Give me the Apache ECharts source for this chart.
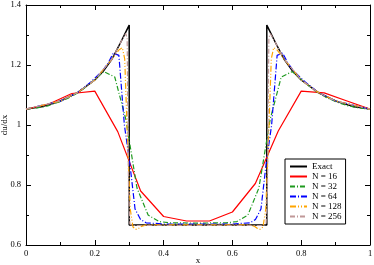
<!DOCTYPE html>
<html><head><meta charset="utf-8">
<script src="https://cdn.jsdelivr.net/npm/echarts@6/dist/echarts.min.js"></script>
<style>html,body{margin:0;padding:0;background:#fff}#c{width:374px;height:265px}</style>
</head><body><div id="c"></div>
<script>
var xTicks = [0, 0.2, 0.4, 0.6, 0.8, 1];
var yTicks = [0.6, 0.8, 1, 1.2, 1.4];
var seriesNames = ['Exact', 'N = 16', 'N = 32', 'N = 64', 'N = 128', 'N = 256'];

var exactX = [0,0.05,0.1,0.15,0.2,0.225,0.25,0.275,0.3,0.3,0.7,0.7,0.725,0.75,0.775,0.8,0.85,0.9,0.95,1];
var exactY = [1.053,1.062,1.08,1.108,1.15,1.18,1.22,1.275,1.333,0.667,0.667,1.333,1.275,1.22,1.18,1.15,1.108,1.08,1.062,1.053];

var n16X = [0,0.0667,0.1333,0.2,0.2667,0.3333,0.4,0.4667,0.5333,0.6,0.6667,0.7333,0.8,0.8667,0.9333,1];
var n16Y = [1.052,1.07,1.105,1.113,0.978,0.78,0.695,0.68,0.68,0.71,0.805,0.98,1.113,1.107,1.08,1.053];

var n32X = [0,0.0323,0.0645,0.0968,0.129,0.161,0.1935,0.2258,0.258,0.29,0.3226,0.355,0.387,0.419,0.5,0.581,0.613,0.645,0.677,0.71,0.742,0.774,0.8065,0.839,0.871,0.903,0.935,0.968,1];
var n32Y = [1.053,1.057,1.064,1.077,1.093,1.115,1.145,1.178,1.16,1.02,0.79,0.70,0.678,0.674,0.673,0.674,0.678,0.70,0.79,1.02,1.16,1.178,1.145,1.115,1.093,1.077,1.064,1.057,1.053];

var n64X = [0,0.1,0.15,0.19,0.222,0.238,0.254,0.27,0.286,0.302,0.317,0.333,0.349,0.4,0.6,0.651,0.667,0.683,0.698,0.714,0.73,0.746,0.762,0.778,0.81,0.85,0.9,1];
var n64Y = [1.053,1.08,1.108,1.145,1.18,1.205,1.24,1.232,1.0,0.87,0.72,0.685,0.674,0.67,0.67,0.674,0.685,0.72,0.87,1.0,1.232,1.24,1.205,1.18,1.145,1.108,1.08,1.053];

var n128X = [0,0.1,0.15,0.2,0.25,0.27,0.28,0.287,0.295,0.303,0.311,0.319,0.327,0.335,0.35,0.65,0.665,0.673,0.681,0.689,0.697,0.705,0.713,0.72,0.73,0.75,0.8,0.85,0.9,1];
var n128Y = [1.053,1.08,1.108,1.15,1.22,1.25,1.258,1.22,0.95,0.72,0.66,0.652,0.655,0.662,0.667,0.667,0.662,0.655,0.652,0.66,0.72,0.95,1.22,1.258,1.25,1.22,1.15,1.108,1.08,1.053];

var n256X = [0,0.1,0.15,0.2,0.25,0.275,0.29,0.294,0.298,0.302,0.31,0.69,0.698,0.702,0.706,0.71,0.725,0.75,0.8,0.85,0.9,1];
var n256Y = [1.053,1.08,1.108,1.15,1.22,1.275,1.305,1.29,0.8,0.67,0.665,0.665,0.67,0.8,1.29,1.305,1.275,1.22,1.15,1.108,1.08,1.053];

function zip(a, b) { return a.map(function (v, i) { return [v, b[i]]; }); }

var FONT = 'Liberation Serif';
var colors = ['#000000', '#ff0000', '#1f9a1f', '#0000ff', '#ffa500', '#c09898'];
var dashes = ['solid', 'solid', [5, 2, 1, 2], [6, 2, 1, 2], [6, 2, 1, 2, 1, 2], [5, 2, 1, 2]];
var xs = [exactX, n16X, n32X, n64X, n128X, n256X];
var ys = [exactY, n16Y, n32Y, n64Y, n128Y, n256Y];

var chart = echarts.init(document.getElementById('c'), null, {renderer: 'canvas'});
function axisCommon(show) {
  return {
    axisLine: {show: true, onZero: false, lineStyle: {color: '#000', width: 1}},
    axisTick: {show: true, inside: true, length: 5, lineStyle: {color: '#000'}},
    minorTick: {show: true, splitNumber: 2, length: 3, lineStyle: {color: '#000'}},
    splitLine: {show: false},
    axisLabel: {show: show, fontFamily: FONT, fontSize: 8.5, color: '#000'}
  };
}
var xb = Object.assign({type: 'value', position: 'bottom', min: 0, max: 1, interval: 0.2,
  name: 'x', nameLocation: 'middle', nameGap: 11, nameMoveOverlap: false,
  nameTextStyle: {fontFamily: FONT, fontSize: 9, color: '#000'}}, axisCommon(true));
xb.axisLabel.margin = 4;
xb.axisLabel.formatter = function (v) { return String(+v.toFixed(1)); };
var xt = Object.assign({type: 'value', position: 'top', min: 0, max: 1, interval: 0.2}, axisCommon(false));
var yl = Object.assign({type: 'value', position: 'left', min: 0.6, max: 1.4, interval: 0.2,
  name: 'du/dx', nameLocation: 'middle', nameGap: 17, nameMoveOverlap: false,
  nameTextStyle: {fontFamily: FONT, fontSize: 9, color: '#000'}}, axisCommon(true));
yl.axisLabel.margin = 5;
yl.axisLabel.formatter = function (v) { return String(+v.toFixed(1)); };
var yr = Object.assign({type: 'value', position: 'right', min: 0.6, max: 1.4, interval: 0.2}, axisCommon(false));

var series = seriesNames.map(function (n, i) {
  return {
    name: n, type: 'line', xAxisIndex: 0, yAxisIndex: 0,
    data: zip(xs[i], ys[i]), showSymbol: false, symbol: 'none', symbolSize: 0, animation: false,
    lineStyle: {color: colors[i], width: i === 0 ? 1.5 : 1.2, type: dashes[i]},
    itemStyle: {color: colors[i]}, z: 2 + i
  };
});

chart.setOption({
  animation: false,
  backgroundColor: '#fff',
  grid: {left: 26, right: 4, top: 5, bottom: 20, containLabel: false, outerBoundsMode: 'none'},
  xAxis: [xb, xt],
  yAxis: [yl, yr],
  legend: {
    show: true, orient: 'vertical', left: 285, top: 159,
    padding: [3, 4, 3, 4], itemGap: 1, itemWidth: 17, itemHeight: 9,
    borderColor: '#000', borderWidth: 1, backgroundColor: '#fff',
    itemStyle: {opacity: 0},
    textStyle: {fontFamily: FONT, fontSize: 9, color: '#000'},
    data: seriesNames
  },
  series: series
});
</script></body></html>
